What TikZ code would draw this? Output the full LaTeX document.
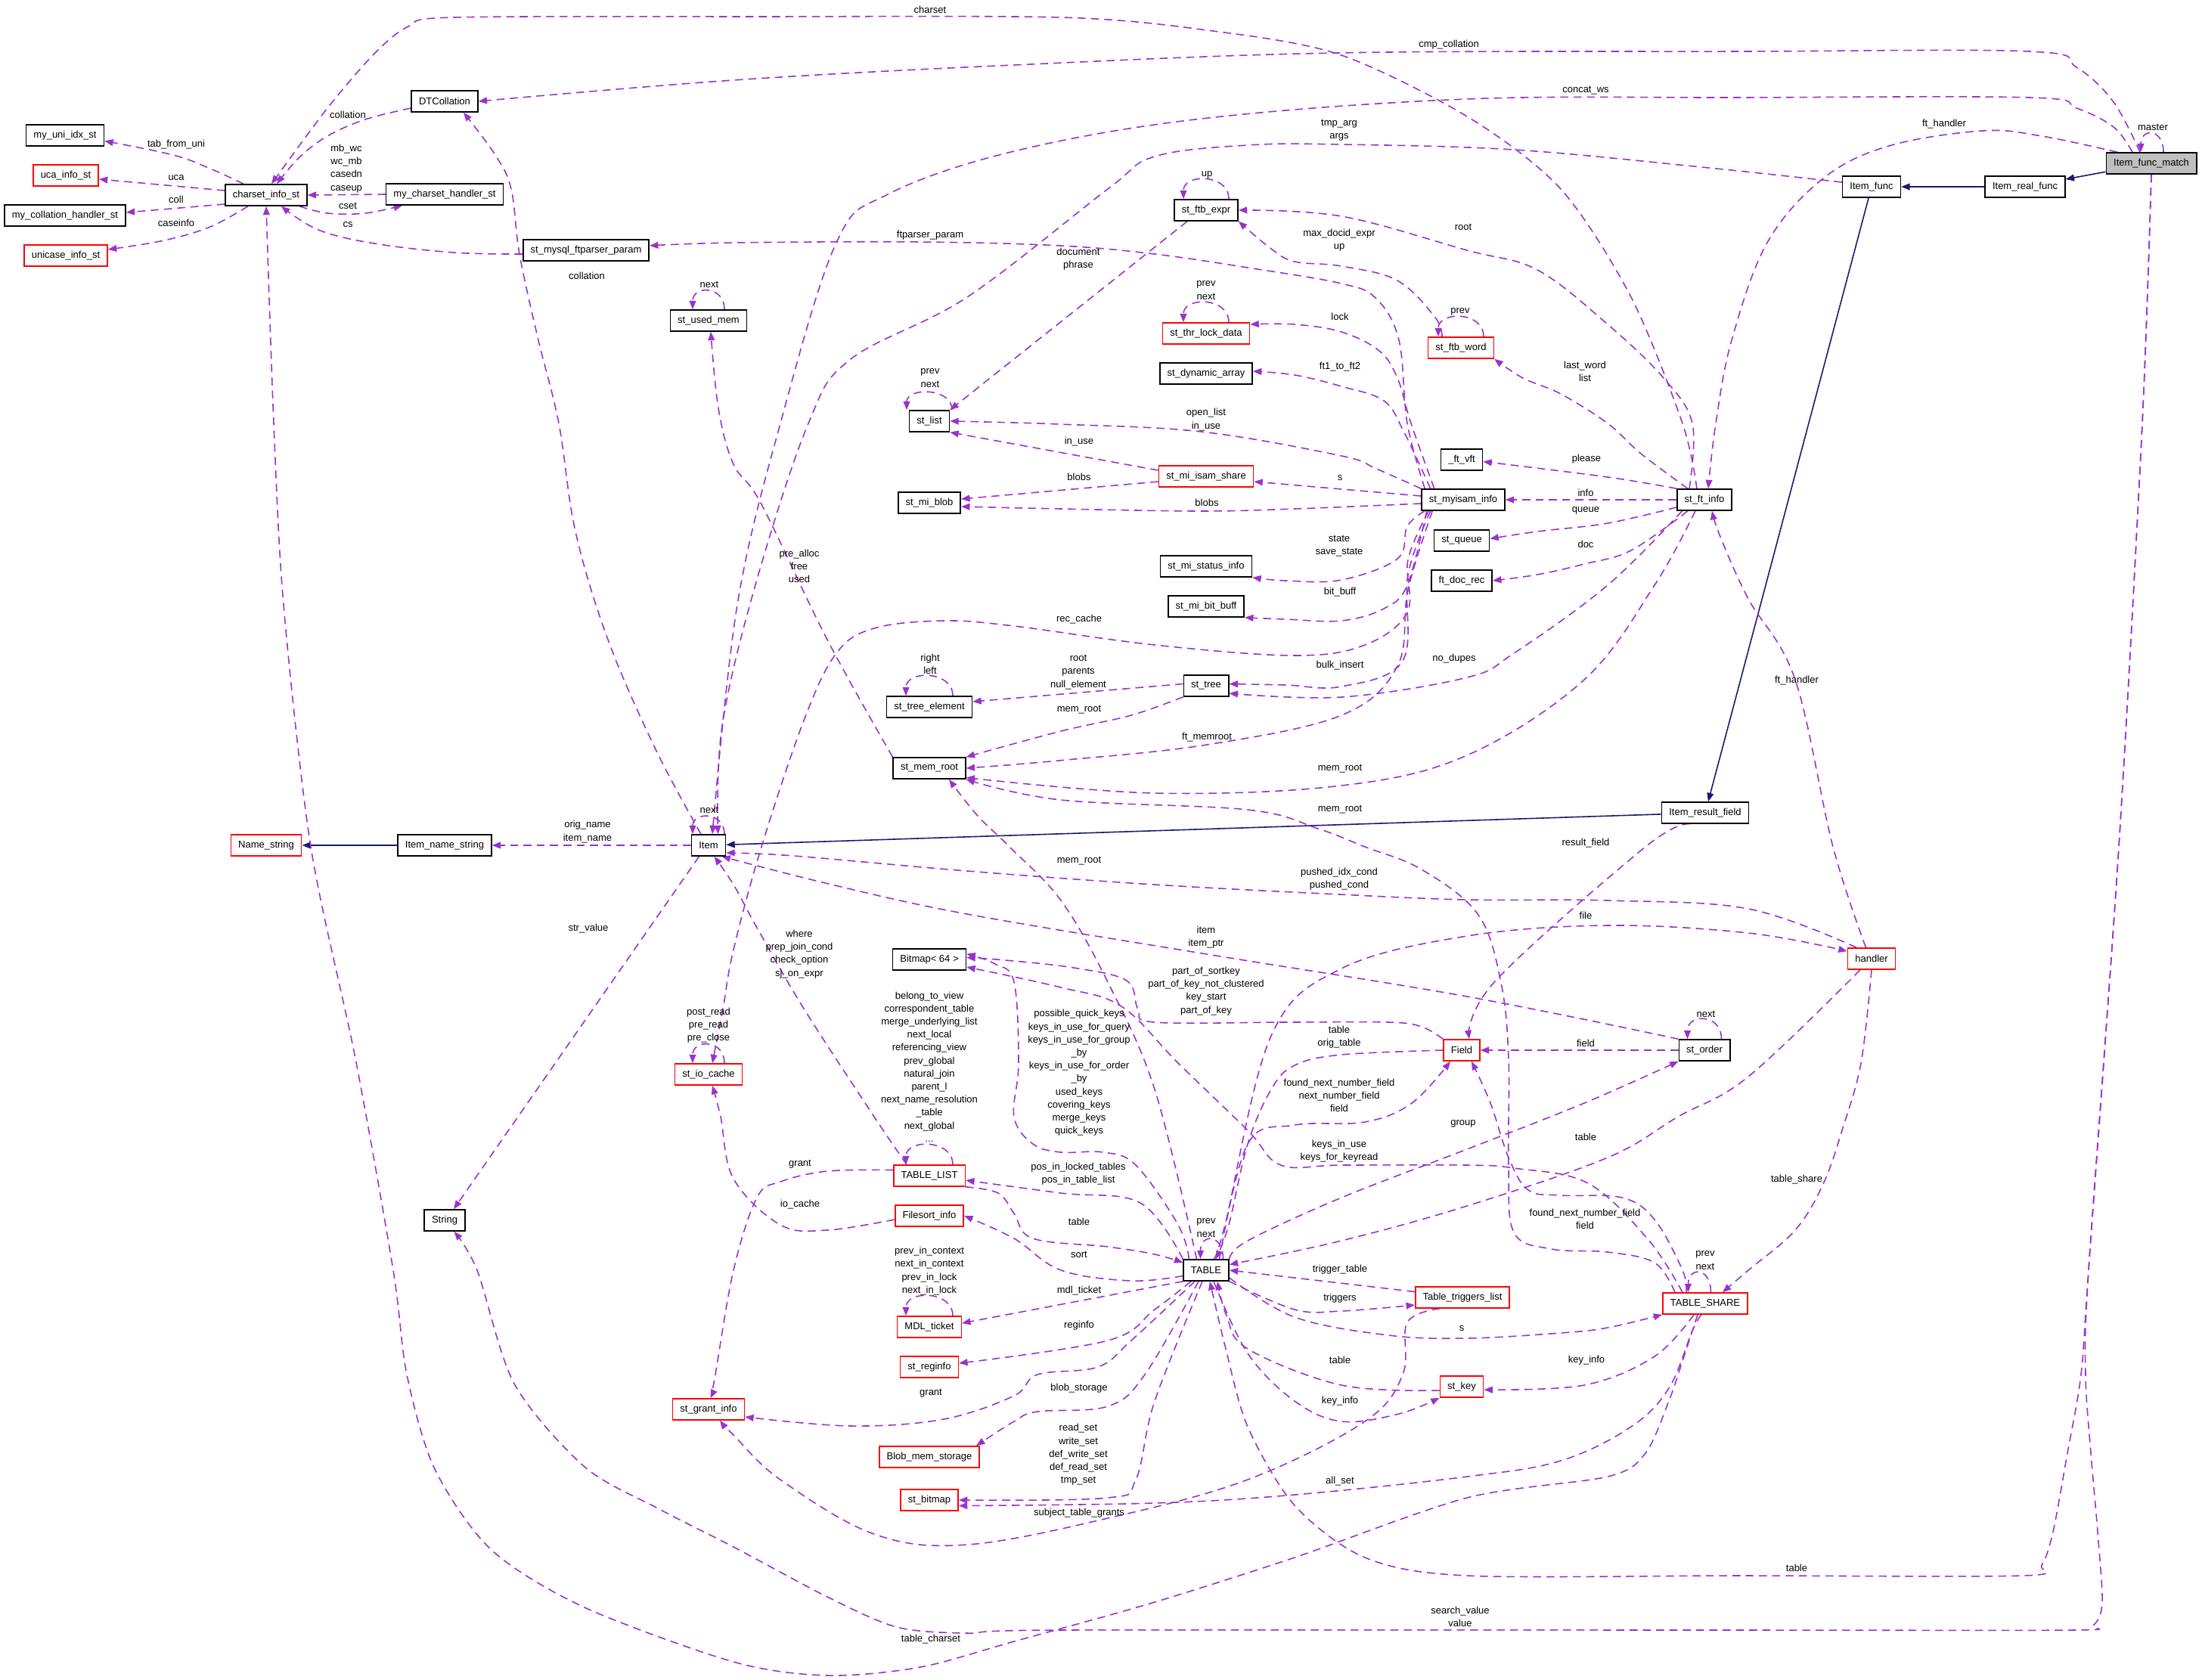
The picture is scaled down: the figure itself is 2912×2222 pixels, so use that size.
\documentclass[tikz,border=0pt]{standalone}
\usepackage{fontspec}
\setmainfont{Liberation Sans}
\usetikzlibrary{arrows.meta,backgrounds}
\definecolor{edgepurple}{HTML}{9A32CD}
\definecolor{inhblue}{HTML}{191970}
\definecolor{boxred}{HTML}{FF0000}
\definecolor{startgray}{HTML}{BFBFBF}

\begin{document}
\begin{tikzpicture}[x=0.02cm, y=-0.02cm,
    box/.style={draw=black, line width=0.9pt, fill=white, minimum height=0.56cm,
      inner xsep=5.6pt, inner ysep=0pt, font=\fontsize{7.4}{9.8}\selectfont},
    redbox/.style={box, draw=boxred},
    dep/.style={draw=edgepurple, line width=0.9pt, dash pattern=on 6pt off 4pt,
      -{Triangle[length=6.5pt,width=5pt]}},
    inh/.style={draw=inhblue, line width=0.9pt, -{Triangle[length=6.5pt,width=5pt]}},
    lbl/.style={align=center, inner sep=0pt, font=\fontsize{7.4}{9.8}\selectfont}]

  \useasboundingbox (0,0) rectangle (2912,2222);

  \node[box, fill=startgray] (ifm) at (2845,216) {Item\_func\_match};
  \node[box] (irf) at (2678,247) {Item\_real\_func};
  \node[box] (ifunc) at (2475,247) {Item\_func};
  \node[box] (dtcoll) at (588,134) {DTCollation};
  \node[box] (uniidx) at (86,179) {my\_uni\_idx\_st};
  \node[redbox] (ucainfo) at (87,232) {uca\_info\_st};
  \node[box] (charset) at (352,258) {charset\_info\_st};
  \node[box] (cshandler) at (588,257) {my\_charset\_handler\_st};
  \node[box] (collhandler) at (86,285) {my\_collation\_handler\_st};
  \node[redbox] (unicase) at (87,338) {unicase\_info\_st};
  \node[box] (ftparser) at (775,331) {st\_mysql\_ftparser\_param};
  \node[box] (usedmem) at (937,424) {st\_used\_mem};
  \node[box] (ftbexpr) at (1595,278) {st\_ftb\_expr};
  \node[redbox] (thrlock) at (1595,441) {st\_thr\_lock\_data};
  \node[box] (dynarray) at (1595,494) {st\_dynamic\_array};
  \node[box] (stlist) at (1229,557) {st\_list};
  \node[redbox] (ftbword) at (1932,460) {st\_ftb\_word};
  \node[redbox] (isamshare) at (1595,630) {st\_mi\_isam\_share};
  \node[box] (miblob) at (1229,665) {st\_mi\_blob};
  \node[box] (myisam) at (1935,661) {st\_myisam\_info};
  \node[box] (ftvft) at (1933,608) {\_ft\_vft};
  \node[box] (queue) at (1933,715) {st\_queue};
  \node[box] (docrec) at (1933,768) {ft\_doc\_rec};
  \node[box] (ftinfo) at (2254,661) {st\_ft\_info};
  \node[box] (statusinfo) at (1595,749) {st\_mi\_status\_info};
  \node[box] (bitbuff) at (1595,802) {st\_mi\_bit\_buff};
  \node[box] (tree) at (1595,907) {st\_tree};
  \node[box] (treeelem) at (1229,935) {st\_tree\_element};
  \node[box] (memroot) at (1229,1016) {st\_mem\_root};
  \node[box] (irfield) at (2255,1075) {Item\_result\_field};
  \node[redbox] (namestr) at (352,1118) {Name\_string};
  \node[box] (itemname) at (588,1118) {Item\_name\_string};
  \node[box] (item) at (937,1118) {Item};
  \node[box] (string) at (588,1614) {String};
  \node[redbox] (iocache) at (937,1421) {st\_io\_cache};
  \node[box] (bitmap) at (1229,1269) {Bitmap< 64 >};
  \node[redbox] (tablelist) at (1229,1555) {TABLE\_LIST};
  \node[redbox] (filesort) at (1229,1608) {Filesort\_info};
  \node[box] (table) at (1595,1680) {TABLE};
  \node[redbox] (field) at (1933,1389) {Field};
  \node[redbox] (handler) at (2475,1268) {handler};
  \node[box] (order) at (2254,1389) {st\_order};
  \node[redbox] (mdl) at (1229,1755) {MDL\_ticket};
  \node[redbox] (reginfo) at (1229,1808) {st\_reginfo};
  \node[redbox] (grantinfo) at (937,1864) {st\_grant\_info};
  \node[redbox] (blobmem) at (1229,1927) {Blob\_mem\_storage};
  \node[redbox] (stbitmap) at (1229,1984) {st\_bitmap};
  \node[redbox] (triggers) at (1934,1716) {Table\_triggers\_list};
  \node[redbox] (stkey) at (1933,1834) {st\_key};
  \node[redbox] (tshare) at (2255,1724) {TABLE\_SHARE};

  \begin{scope}[on background layer]
    \fill[white] (0,0) rectangle (2912,2222);

    \draw[inh] (ifm) -- (irf);
    \draw[inh] (irf) -- (ifunc);
    \draw[inh] (ifunc) -- (irfield);
    \draw[inh] (irfield) -- (item);
    \draw[inh] (itemname) -- (namestr);

    \draw[dep] ([xshift=0.32cm]ifm.north) .. controls +(0,-32) and +(0,-32) .. ([xshift=-0.28cm]ifm.north);
    \draw[dep] ([xshift=0.6cm]ftbexpr.north) .. controls +(0,-34) and +(0,-34) .. ([xshift=-0.6cm]ftbexpr.north);
    \draw[dep] ([xshift=0.6cm]thrlock.north) .. controls +(0,-34) and +(0,-34) .. ([xshift=-0.6cm]thrlock.north);
    \draw[dep] ([xshift=0.6cm]ftbword.north) .. controls +(0,-34) and +(0,-34) .. ([xshift=-0.6cm]ftbword.north);
    \draw[dep] ([xshift=0.6cm]stlist.north) .. controls +(0,-30) and +(0,-30) .. ([xshift=-0.6cm]stlist.north);
    \draw[dep] ([xshift=0.42cm]usedmem.north) .. controls +(0,-32) and +(0,-32) .. ([xshift=-0.42cm]usedmem.north);
    \draw[dep] ([xshift=0.62cm]treeelem.north) .. controls +(0,-34) and +(0,-34) .. ([xshift=-0.62cm]treeelem.north);
    \draw[dep] ([xshift=0.42cm]item.north) .. controls +(0,-30) and +(0,-30) .. ([xshift=-0.42cm]item.north);
    \draw[dep] ([xshift=0.42cm]iocache.north) .. controls +(0,-32) and +(0,-32) .. ([xshift=-0.42cm]iocache.north);
    \draw[dep] ([xshift=0.62cm]tablelist.north) .. controls +(0,-34) and +(0,-34) .. ([xshift=-0.62cm]tablelist.north);
    \draw[dep] ([xshift=0.45cm]table.north) .. controls +(0,-34) and +(0,-34) .. ([xshift=-0.15cm]table.north);
    \draw[dep] ([xshift=0.62cm]mdl.north) .. controls +(0,-34) and +(0,-34) .. ([xshift=-0.62cm]mdl.north);
    \draw[dep] ([xshift=0.45cm]order.north) .. controls +(0,-34) and +(0,-34) .. ([xshift=-0.45cm]order.north);
    \draw[dep] ([xshift=0.15cm]tshare.north) .. controls +(0,-34) and +(0,-34) .. ([xshift=-0.45cm]tshare.north);

    \draw[dep] plot[smooth, tension=0.6] coordinates {([xshift=-0.3cm]ifm.north) (2795,135) (2746,89) (2684,68) (2300,68) (1768,70) (1341,86) (970,106) (dtcoll.east)};
    \draw[dep] plot[smooth, tension=0.6] coordinates {([xshift=-0.5cm]ifm.north) (2795,168) (2746,143) (2684,129) (2300,129) (1940,131) (1589,157) (1341,200) (1174,257) (1106,321) (1032,560) (975,800) ([xshift=0.1cm]item.north)};
    \draw[dep] plot[smooth, tension=0.6] coordinates {([xshift=-0.9cm]ifm.north) (2700,180) (2622,173) (2498,193) (2411,236) (2337,321) (2290,450) (2269,560) ([xshift=0.1cm]ftinfo.north)};
    \draw[dep] plot[smooth, tension=0.5] coordinates {(ifm.south) (2833,560) (2802,1120) (2762,1680) (2752,1818) (2734,1922) (2715,2026) (2700,2070) (2675,2084) (2300,2084) (1940,2084) (1805,2060) (1712,1991) (1650,1887) (1620,1780) ([xshift=0.1cm]table.south)};
    \draw[dep] plot[smooth, tension=0.5] coordinates {(ifm.south) (2833,560) (2802,1120) (2762,1680) (2758,1818) (2765,1922) (2774,2026) (2780,2120) (2768,2150) (2740,2156) (2300,2156) (1403,2156) (1279,2160) (1186,2152) (1094,2112) (970,2046) (870,1995) (773,1940) (680,1830) (631,1680) ([xshift=0.25cm]string.south)};
    \draw[dep] plot[smooth, tension=0.5] coordinates {([xshift=-0.2cm]tshare.south) (2225,1800) (2207,1853) (2176,1922) (2126,1953) (1940,1981) (1712,2060) (1527,2119) (1341,2171) (1217,2205) (1094,2216) (970,2198) (773,2126) (650,2050) (575,1943) (538,1818) (520,1680) (470,1400) (411,1120) (375,800) (362,560) (charset.south)};
    \draw[dep] plot[smooth, tension=0.5] coordinates {([xshift=-0.2cm]ftinfo.north) (2225,560) (2157,393) (2064,250) (1940,154) (1768,71) (1589,39) (1403,23) (1000,22) (600,23) (540,35) (495,71) (433,143) ([xshift=0.14cm]charset.north)};

    \draw[dep] plot[smooth, tension=0.6] coordinates {([yshift=-0.18cm]dtcoll.west) (483,158) (433,180) (396,208) ([xshift=0.28cm]charset.north)};
    \draw[dep] plot[smooth, tension=0.6] coordinates {([xshift=-0.6cm]charset.north) (278,223) (229,205) ([yshift=-0.15cm]uniidx.east)};
    \draw[dep] ([yshift=0.12cm]charset.west) -- ([yshift=-0.1cm]ucainfo.east);
    \draw[dep] ([yshift=-0.24cm]charset.west) -- ([yshift=0.08cm]collhandler.east);
    \draw[dep] plot[smooth, tension=0.6] coordinates {([xshift=-0.48cm]charset.south) (278,300) (217,318) ([yshift=0.16cm]unicase.east)};
    \draw[dep] (cshandler.west) -- (charset.east);
    \draw[dep] plot[smooth, tension=0.6] coordinates {([xshift=0.88cm]charset.south) (433,282) (483,282) ([xshift=-1.12cm]cshandler.south)};
    \draw[dep] plot[smooth, tension=0.6] coordinates {([yshift=-0.1cm]ftparser.west) (600,334) (495,322) (421,304) ([xshift=0.4cm]charset.south)};

    \draw[dep] plot[smooth, tension=0.6] coordinates {([xshift=0.1cm]myisam.north west) (1861,560) (1850,450) (1820,395) (1774,375) (1650,354) (1527,336) (1403,325) (1217,320) (970,321) ([yshift=0.12cm]ftparser.east)};
    \draw[dep] plot[smooth, tension=0.6] coordinates {([xshift=0.35cm]myisam.north west) (1866,560) (1848,500) (1824,464) (1774,439) (1712,429) ([yshift=0.24cm]thrlock.east)};
    \draw[dep] plot[smooth, tension=0.6] coordinates {([xshift=0.25cm]myisam.north west) (1856,570) (1830,530) (1774,511) (1712,496) ([yshift=0.06cm]dynarray.east)};
    \draw[dep] plot[smooth, tension=0.6] coordinates {(myisam.north west) (1820,620) (1774,603) (1589,571) (1400,561) (stlist.east)};
    \draw[dep] ([yshift=0.16cm]isamshare.west) -- (stlist.south east);
    \draw[dep] ([yshift=-0.14cm]isamshare.west) -- ([yshift=0.1cm]miblob.east);
    \draw[dep] ([yshift=0.1cm]myisam.west) -- ([yshift=-0.14cm]isamshare.east);
    \draw[dep] plot[smooth, tension=0.6] coordinates {([yshift=-0.1cm]myisam.west) (1712,673) (1589,676) (1403,673) ([yshift=-0.1cm]miblob.east)};
    \draw[dep] plot[smooth, tension=0.6] coordinates {([xshift=0.1cm]myisam.south west) (1861,696) (1848,739) (1774,767) (1700,768) (statusinfo.south east)};
    \draw[dep] plot[smooth, tension=0.6] coordinates {([xshift=0.15cm]myisam.south west) (1861,774) (1830,805) (1774,821) (1700,819) (bitbuff.south east)};
    \draw[dep] plot[smooth, tension=0.6] coordinates {([xshift=0.2cm]myisam.south west) (1862,740) (1861,810) (1805,853) (1712,867) (1527,853) (1341,828) (1248,821) (1156,831) (1106,864) (1063,953) (1007,1120) (970,1256) (956,1334) ([xshift=0.1cm]iocache.north)};
    \draw[dep] plot[smooth, tension=0.6] coordinates {([xshift=0.25cm]myisam.south west) (1862,760) (1855,874) (1774,908) (1700,906) ([yshift=0.05cm]tree.east)};
    \draw[dep] plot[smooth, tension=0.6] coordinates {([xshift=0.3cm]myisam.south west) (1862,780) (1848,881) (1774,946) (1596,985) (1400,1006) (memroot.east)};

    \draw[dep] plot[smooth, tension=0.6] coordinates {([xshift=0.5cm]ftinfo.south west) (2188,774) (2095,899) (1940,999) (1774,1039) (1527,1049) ([yshift=-0.25cm]memroot.east)};
    \draw[dep] plot[smooth, tension=0.6] coordinates {([xshift=0.15cm]ftinfo.south west) (2126,774) (2002,864) (1940,896) (1774,922) ([yshift=-0.2cm]tree.east)};
    \draw[dep] plot[smooth, tension=0.6] coordinates {(ftinfo.north west) (2126,631) ([yshift=-0.05cm]ftvft.east)};
    \draw[dep] (ftinfo.west) -- (myisam.east);
    \draw[dep] plot[smooth, tension=0.6] coordinates {([yshift=-0.2cm]ftinfo.west) (2126,692) (2033,703) ([yshift=0.05cm]queue.east)};
    \draw[dep] plot[smooth, tension=0.6] coordinates {([xshift=0.3cm]ftinfo.south west) (2157,728) (2095,746) (2033,760) (docrec.east)};
    \draw[dep] plot[smooth, tension=0.6] coordinates {([xshift=0.3cm]ftinfo.north west) (2170,600) (2126,560) (2064,521) (2014,500) (ftbword.south east)};
    \draw[dep] plot[smooth, tension=0.6] coordinates {([xshift=-0.4cm]ftinfo.north) (2238,560) (2200,500) (2126,429) (2033,357) (1940,331) (1774,286) (ftbexpr.east)};
    \draw[dep] plot[smooth, tension=0.6] coordinates {([xshift=-0.5cm]ftbword.north) (1898,420) (1848,371) (1774,352) (1712,346) (1681,329) (ftbexpr.south east)};
    \draw[dep] ([xshift=-0.5cm]ftbexpr.south) -- (stlist.north east);

    \draw[dep] ([yshift=0.05cm]tree.west) -- ([yshift=0.14cm]treeelem.east);
    \draw[dep] plot[smooth, tension=0.6] coordinates {(tree.south west) (1496,946) (1403,967) (memroot.north east)};
    \draw[dep] plot[smooth, tension=0.6] coordinates {(memroot.north west) (1094,846) (1007,667) (970,614) (950,540) ([xshift=0.06cm]usedmem.south)};
    \draw[dep] plot[smooth, tension=0.6] coordinates {([xshift=-0.8cm]tshare.north) (2188,1670) (2126,1656) (2052,1652) (2002,1630) (1995,1540) (1995,1400) (1985,1300) (1955,1210) (1880,1150) (1805,1120) (1743,1096) (1650,1071) (1403,1058) (memroot.south east)};
    \draw[dep] plot[smooth, tension=0.6] coordinates {([xshift=-0.25cm]table.north) (1527,1441) (1465,1299) (1403,1191) (1335,1120) (1292,1078) ([xshift=0.52cm]memroot.south)};

    \draw[dep] plot[smooth, tension=0.6] coordinates {([xshift=-0.4cm]handler.north) (2312,1202) (2126,1191) (1940,1190) (1772,1183) (1527,1170) (1279,1152) (1050,1132) ([yshift=-0.2cm]item.east)};
    \draw[dep] plot[smooth, tension=0.6] coordinates {(order.north west) (1940,1318) (1596,1262) (1279,1209) (1100,1170) ([xshift=0.35cm]item.south)};
    \draw[dep] plot[smooth, tension=0.6] coordinates {([xshift=-0.6cm]tablelist.north) (1156,1477) (1063,1334) (1001,1227) (970,1170) ([xshift=0.15cm]item.south)};
    \draw[dep] (item.west) -- (itemname.east);
    \draw[dep] ([xshift=-0.25cm]item.south) -- ([xshift=0.24cm]string.north);
    \draw[dep] plot[smooth, tension=0.6] coordinates {([xshift=-0.2cm]item.north) (866,989) (804,846) (761,703) (739,560) (711,446) (687,336) (676,250) (655,205) ([xshift=0.5cm]dtcoll.south)};
    \draw[dep] plot[smooth, tension=0.6] coordinates {([yshift=0.12cm]ifunc.west) (2250,221) (2002,198) (1774,191) (1650,192) (1527,207) (1465,250) (1279,393) (1125,475) (1069,560) (1000,770) (955,960) ([xshift=0.25cm]item.north)};

    \draw[dep] plot[smooth, tension=0.6] coordinates {([xshift=-0.4cm]irfield.south) (2176,1120) (1977,1298) ([xshift=0.2cm]field.north)};
    \draw[dep] plot[smooth, tension=0.6] coordinates {([xshift=-0.15cm]handler.north) (2424,1120) (2374,899) (2312,792) (2275,710) ([xshift=0.2cm]ftinfo.south)};
    \draw[dep] plot[smooth, tension=0.6] coordinates {(handler.south) (2461,1406) (2436,1495) (2411,1566) (2374,1627) (2312,1680) ([xshift=0.46cm]tshare.north)};
    \draw[dep] plot[smooth, tension=0.6] coordinates {([xshift=-0.3cm]handler.south) (2312,1424) (2219,1477) (2126,1531) (1940,1595) (1774,1641) ([yshift=0.15cm]table.east)};
    \draw[dep] plot[smooth, tension=0.6] coordinates {(table.north east) (1650,1641) (1774,1584) (1940,1520) (2095,1459) (order.south west)};
    \draw[dep] plot[smooth, tension=0.6] coordinates {([xshift=0.2cm]table.north) (1620,1620) (1681,1370) (1774,1281) (1940,1238) (2126,1224) (2312,1234) ([yshift=0.2cm]handler.west)};
    \draw[dep] (order.west) -- (field.east);

    \draw[dep] plot[smooth, tension=0.6] coordinates {(field.north west) (1880,1358) (1836,1352) (1700,1352) (1527,1352) (1505,1335) (1490,1297) (1420,1280) (1330,1270) ([yshift=0.05cm]bitmap.east)};
    \draw[dep] plot[smooth, tension=0.6] coordinates {([xshift=-0.6cm]tshare.north) (2180,1640) (2100,1565) (2002,1545) (1940,1541) (1774,1541) (1694,1541) (1650,1495) (1558,1406) (1483,1331) (1403,1306) ([yshift=-0.2cm]bitmap.east)};
    \draw[dep] plot[smooth, tension=0.6] coordinates {([xshift=-0.45cm]table.north) (1558,1620) (1502,1541) (1459,1524) (1403,1524) (1366,1513) (1341,1477) (1347,1406) (1341,1299) (1316,1275) ([yshift=0.15cm]bitmap.east)};
    \draw[dep] plot[smooth, tension=0.6] coordinates {([xshift=0.35cm]table.north) (1650,1513) (1712,1488) (1805,1484) (1867,1459) ([xshift=-0.3cm]field.south)};
    \draw[dep] plot[smooth, tension=0.6] coordinates {(field.west) (1774,1395) (1712,1409) (1681,1441) (1650,1513) (1625,1620) ([xshift=0.25cm]table.north)};
    \draw[dep] plot[smooth, tension=0.6] coordinates {([xshift=-0.5cm]tshare.north) (2225,1680) (2188,1613) (2145,1584) (2064,1581) (2021,1574) (1995,1531) (1971,1459) ([xshift=0.26cm]field.south)};

    \draw[dep] plot[smooth, tension=0.6] coordinates {(tablelist.south east) (1320,1578) (1341,1605) (1366,1638) (1465,1649) (1527,1659) ([yshift=0.2cm]table.west)};
    \draw[dep] plot[smooth, tension=0.6] coordinates {(table.north west) (1508,1591) (1403,1578) ([yshift=-0.12cm]tablelist.east)};
    \draw[dep] plot[smooth, tension=0.6] coordinates {([yshift=-0.15cm]table.west) (1496,1694) (1403,1680) (1341,1638) (filesort.east)};
    \draw[dep] (table.south west) -- ([yshift=0.1cm]mdl.east);
    \draw[dep] plot[smooth, tension=0.6] coordinates {([xshift=-0.4cm]table.south) (1527,1732) (1465,1773) ([yshift=0.1cm]reginfo.east)};
    \draw[dep] plot[smooth, tension=0.6] coordinates {([xshift=-0.3cm]table.south) (1496,1773) (1452,1808) (1372,1818) (1341,1846) (1248,1877) (1125,1886) ([yshift=-0.2cm]grantinfo.east)};
    \draw[dep] plot[smooth, tension=0.6] coordinates {([xshift=-0.2cm]table.south) (1514,1818) (1465,1860) (1372,1867) (1341,1880) ([xshift=-0.1cm]blobmem.north east)};
    \draw[dep] plot[smooth, tension=0.6] coordinates {([xshift=-0.1cm]table.south) (1527,1853) (1502,1957) (1465,1981) (stbitmap.east)};
    \draw[dep] plot[smooth, tension=0.6] coordinates {([xshift=-0.1cm]tshare.south) (2238,1760) (2207,1836) (2157,1887) (2064,1932) (1940,1953) (1712,1977) (1527,1988) ([yshift=-0.15cm]stbitmap.east)};
    \draw[dep] plot[smooth, tension=0.6] coordinates {(table.south east) (1712,1732) (1774,1734) ([yshift=-0.2cm]triggers.west)};
    \draw[dep] ([yshift=0.15cm]triggers.west) -- (table.east);
    \draw[dep] plot[smooth, tension=0.6] coordinates {([yshift=-0.2cm]table.east) (1712,1742) (1836,1766) (1940,1770) (2064,1763) (2126,1756) (tshare.south west)};
    \draw[dep] plot[smooth, tension=0.6] coordinates {([yshift=-0.1cm]stkey.west) (1774,1832) (1650,1784) (1622,1740) ([xshift=0.3cm]table.south)};
    \draw[dep] plot[smooth, tension=0.6] coordinates {([xshift=0.2cm]table.south) (1650,1790) (1712,1853) (1774,1880) (1850,1870) (stkey.south west)};
    \draw[dep] plot[smooth, tension=0.6] coordinates {([xshift=-0.3cm]tshare.south) (2188,1794) (2095,1832) ([yshift=-0.08cm]stkey.east)};
    \draw[dep] plot[smooth, tension=0.6] coordinates {([xshift=-0.6cm]triggers.south) (1861,1749) (1855,1818) (1805,1880) (1650,1957) (1465,2008) (1279,2043) (1156,2029) (1032,1957) (970,1898) ([xshift=0.3cm]grantinfo.south)};
    \draw[dep] plot[smooth, tension=0.6] coordinates {([yshift=0.15cm]tablelist.west) (1094,1549) (1032,1563) (1001,1584) (970,1680) (946,1818) ([xshift=0.05cm]grantinfo.north)};
    \draw[dep] plot[smooth, tension=0.6] coordinates {([yshift=-0.1cm]filesort.west) (1094,1627) (1032,1620) (970,1559) (953,1477) ([xshift=0.1cm]iocache.south)};
  \end{scope}

  \node[lbl] (lmaster) at (2847,168) {master};
  \node[lbl] (lcmp) at (1916,59) {cmp\_collation};
  \node[lbl] (lconcat) at (2097,120) {concat\_ws};
  \node[lbl] (lfthone) at (2571,164) {ft\_handler};
  \node[lbl] (lcharset) at (1230,13) {charset};
  \node[lbl] (largs) at (1771,172) {tmp\_arg\\args};
  \node[lbl] (lup) at (1596,231) {up};
  \node[lbl] (lmaxdoc) at (1771,318) {max\_docid\_expr\\up};
  \node[lbl] (lftparser) at (1230,311) {ftparser\_param};
  \node[lbl] (ldoc) at (1426,343) {document\\phrase};
  \node[lbl] (lthr) at (1595,384) {prev\\next};
  \node[lbl] (llock) at (1772,419) {lock};
  \node[lbl] (lftone) at (1772,485) {ft1\_to\_ft2};
  \node[lbl] (llistloop) at (1230,500) {prev\\next};
  \node[lbl] (lword) at (1931,412) {prev};
  \node[lbl] (llastword) at (2096,491) {last\_word\\list};
  \node[lbl] (lopen) at (1595,555) {open\_list\\in\_use};
  \node[lbl] (lshareuse) at (1427,584) {in\_use};
  \node[lbl] (lshareblobs) at (1427,631) {blobs};
  \node[lbl] (ls) at (1772,632) {s};
  \node[lbl] (lblobs) at (1596,665) {blobs};
  \node[lbl] (lroot) at (1935,300) {root};
  \node[lbl] (lplease) at (2098,607) {please};
  \node[lbl] (linfo) at (2097,652) {info};
  \node[lbl] (lqueue) at (2097,675) {queue};
  \node[lbl] (ldocrec) at (2097,720) {doc};
  \node[lbl] (lprealloc) at (1057,749) {pre\_alloc\\free\\used};
  \node[lbl] (lstate) at (1771,722) {state\\save\_state};
  \node[lbl] (lbitbuff) at (1772,783) {bit\_buff};
  \node[lbl] (lreccache) at (1427,819) {rec\_cache};
  \node[lbl] (ltreeloop) at (1230,878) {right\\left};
  \node[lbl] (ltree) at (1426,889) {root\\parents\\null\_element};
  \node[lbl] (lbulk) at (1772,880) {bulk\_insert};
  \node[lbl] (lnodupes) at (1923,871) {no\_dupes};
  \node[lbl] (ltreemem) at (1427,939) {mem\_root};
  \node[lbl] (lftmem) at (1596,975) {ft\_memroot};
  \node[lbl] (lftinfomem) at (1772,1017) {mem\_root};
  \node[lbl] (lsharemem) at (1772,1071) {mem\_root};
  \node[lbl] (lfthtwo) at (2376,900) {ft\_handler};
  \node[lbl] (lresult) at (2097,1115) {result\_field};
  \node[lbl] (lcollation) at (460,152) {collation};
  \node[lbl] (ltabuni) at (233,191) {tab\_from\_uni};
  \node[lbl] (luca) at (233,235) {uca};
  \node[lbl] (lcoll) at (233,264) {coll};
  \node[lbl] (lcaseinfo) at (233,295) {caseinfo};
  \node[lbl] (lmbwc) at (458,223) {mb\_wc\\wc\_mb\\casedn\\caseup};
  \node[lbl] (lcset) at (460,272) {cset};
  \node[lbl] (lcs) at (460,297) {cs};
  \node[lbl] (litemcoll) at (776,365) {collation};
  \node[lbl] (lusedmem) at (938,376) {next};
  \node[lbl] (litemnext) at (938,1071) {next};
  \node[lbl] (lorig) at (777,1100) {orig\_name\\item\_name};
  \node[lbl] (lstrval) at (778,1228) {str\_value};
  \node[lbl] (ltablemem) at (1427,1139) {mem\_root};
  \node[lbl] (lpushed) at (1771,1163) {pushed\_idx\_cond\\pushed\_cond};
  \node[lbl] (lwhere) at (1057,1262) {where\\prep\_join\_cond\\check\_option\\sj\_on\_expr};
  \node[lbl] (litem) at (1595,1240) {item\\item\_ptr};
  \node[lbl] (lpartof) at (1595,1311) {part\_of\_sortkey\\part\_of\_key\_not\_clustered\\key\_start\\part\_of\_key};
  \node[lbl] (ltlloop) at (1229,1411) {belong\_to\_view\\correspondent\_table\\merge\_underlying\_list\\next\_local\\referencing\_view\\prev\_global\\natural\_join\\parent\_l\\next\_name\_resolution\\\_table\\next\_global\\...};
  \node[lbl] (lquick) at (1427,1419) {possible\_quick\_keys\\keys\_in\_use\_for\_query\\keys\_in\_use\_for\_group\\\_by\\keys\_in\_use\_for\_order\\\_by\\used\_keys\\covering\_keys\\merge\_keys\\quick\_keys};
  \node[lbl] (lorigtable) at (1771,1372) {table\\orig\_table};
  \node[lbl] (lfound) at (1771,1449) {found\_next\_number\_field\\next\_number\_field\\field};
  \node[lbl] (lkeysinuse) at (1771,1523) {keys\_in\_use\\keys\_for\_keyread};
  \node[lbl] (lgrantone) at (1058,1540) {grant};
  \node[lbl] (lio) at (1058,1593) {io\_cache};
  \node[lbl] (lposin) at (1426,1553) {pos\_in\_locked\_tables\\pos\_in\_table\_list};
  \node[lbl] (ltabletl) at (1427,1616) {table};
  \node[lbl] (ltableloop) at (1595,1624) {prev\\next};
  \node[lbl] (lsort) at (1427,1659) {sort};
  \node[lbl] (lmdlloop) at (1229,1681) {prev\_in\_context\\next\_in\_context\\prev\_in\_lock\\next\_in\_lock};
  \node[lbl] (lmdl) at (1427,1707) {mdl\_ticket};
  \node[lbl] (ltrigtable) at (1772,1679) {trigger\_table};
  \node[lbl] (ltriggers) at (1772,1717) {triggers};
  \node[lbl] (lstwo) at (1933,1757) {s};
  \node[lbl] (lreginfo) at (1427,1753) {reginfo};
  \node[lbl] (ltablekey) at (1772,1799) {table};
  \node[lbl] (lgranttwo) at (1231,1843) {grant};
  \node[lbl] (lblobst) at (1427,1836) {blob\_storage};
  \node[lbl] (lkeyinfo) at (1772,1853) {key\_info};
  \node[lbl] (lkeyinfotwo) at (2098,1799) {key\_info};
  \node[lbl] (lsets) at (1426,1924) {read\_set\\write\_set\\def\_write\_set\\def\_read\_set\\tmp\_set};
  \node[lbl] (lallset) at (1772,1959) {all\_set};
  \node[lbl] (lsubj) at (1427,2001) {subject\_table\_grants};
  \node[lbl] (ltablech) at (1231,2168) {table\_charset};
  \node[lbl] (lsearch) at (1931,2138) {search\_value\\value};
  \node[lbl] (ltableifm) at (2376,2074) {table};
  \node[lbl] (lfile) at (2097,1211) {file};
  \node[lbl] (lorderloop) at (2256,1341) {next};
  \node[lbl] (lfield) at (2097,1380) {field};
  \node[lbl] (lhtable) at (2097,1504) {table};
  \node[lbl] (lgroup) at (1935,1486) {group};
  \node[lbl] (ltshare) at (2376,1560) {table\_share};
  \node[lbl] (lfoundtwo) at (2096,1612) {found\_next\_number\_field\\field};
  \node[lbl] (ltsloop) at (2255,1667) {prev\\next};
  \node[lbl] (lioloop) at (937,1356) {post\_read\\pre\_read\\pre\_close};
\end{tikzpicture}
\end{document}
